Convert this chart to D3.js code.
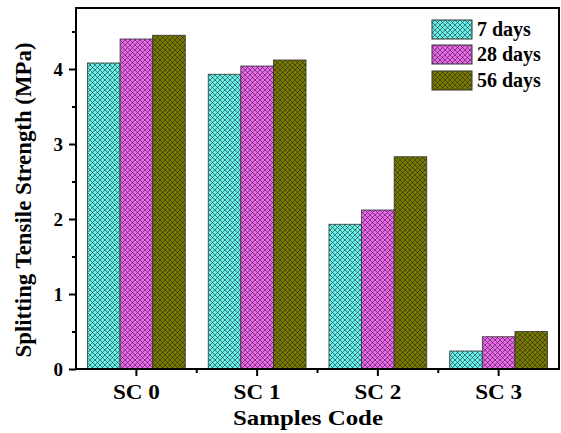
<!DOCTYPE html>
<html><head><meta charset="utf-8">
<script src="https://cdn.jsdelivr.net/npm/d3@7"></script>
<style>body{margin:0;background:#fff}svg{display:block}text{font-family:"Liberation Serif","Times New Roman",serif;font-weight:bold;fill:#000}</style>
</head><body>
<script>
const categories = ["SC 0","SC 1","SC 2","SC 3"];
const seriesNames = ["7 days","28 days","56 days"];
const days7  = [4.08, 3.93, 1.93, 0.24];
const days28 = [4.40, 4.04, 2.12, 0.43];
const days56 = [4.45, 4.12, 2.83, 0.50];
const yTicks = [0,1,2,3,4];
const yMinorTicks = [0.5,1.5,2.5,3.5,4.5];
const colors = ["#66f2ea","#ee66ee","#7a7a00"];

const W=561,H=433;
const m={l:76,r:2,t:8};
const y0=369;
const svg=d3.select("body").append("svg").attr("width",W).attr("height",H);
const defs=svg.append("defs");
const P=5;
colors.forEach((c,i)=>{
  const p=defs.append("pattern").attr("id","pat"+i).attr("patternUnits","userSpaceOnUse").attr("width",P).attr("height",P);
  p.append("rect").attr("width",P).attr("height",P).attr("fill",c);
  p.append("path").attr("d",`M-1,1 L1,-1 M0,${P} L${P},0 M${P-1},${P+1} L${P+1},${P-1} M-1,${P-1} L1,${P+1} M0,0 L${P},${P} M${P-1},-1 L${P+1},1`)
   .attr("stroke","#1a1a1a").attr("stroke-opacity",0.6).attr("stroke-width",0.9);
});

const x=d3.scaleBand().domain(categories).range([m.l,W-m.r]).paddingInner(0.19).paddingOuter(0.095);
const xs=d3.scaleBand().domain(seriesNames).range([0,x.bandwidth()]);
const y=d3.scaleLinear().domain([0,4.85]).range([y0,y0-4.85*75]);

const data=[days7,days28,days56];
const g=svg.append("g");
categories.forEach((c,ci)=>{
  seriesNames.forEach((s,si)=>{
    const v=data[si][ci];
    g.append("rect").attr("x",x(c)+xs(s)).attr("y",y(v)).attr("width",xs.bandwidth()).attr("height",y(0)-y(v))
     .attr("fill","url(#pat"+si+")").attr("stroke","#333").attr("stroke-width",0.8);
  });
});

// frame
svg.append("rect").attr("x",m.l).attr("y",m.t).attr("width",W-m.r-m.l).attr("height",y0-m.t)
  .attr("fill","none").attr("stroke","#000").attr("stroke-width",2);

// y axis
const ya=svg.append("g").attr("transform",`translate(${m.l},0)`)
 .call(d3.axisLeft(y).tickValues(yTicks).tickSize(7).tickPadding(6).tickFormat(d3.format("d")));
ya.select(".domain").remove();
ya.selectAll("line").attr("stroke","#000").attr("stroke-width",2);
ya.selectAll("text").style("font-size","19px").attr("dy","0.36em");
const yam=svg.append("g").attr("transform",`translate(${m.l},0)`)
 .call(d3.axisLeft(y).tickValues(yMinorTicks).tickSize(4).tickFormat(""));
yam.select(".domain").remove();
yam.selectAll("line").attr("stroke","#000").attr("stroke-width",2);

// x axis
const xa=svg.append("g").attr("transform",`translate(0,${y0})`)
 .call(d3.axisBottom(x).tickSize(7).tickPadding(9));
xa.select(".domain").remove();
xa.selectAll("line").attr("stroke","#000").attr("stroke-width",2);
xa.selectAll("text").style("font-size","20px").attr("textLength",47).attr("lengthAdjust","spacingAndGlyphs");
const bounds=categories.slice(1).map(c=>x(c)-x.step()*x.paddingInner()/2);
svg.append("g").selectAll("line").data(bounds).join("line")
 .attr("x1",d=>d).attr("x2",d=>d).attr("y1",y0).attr("y2",y0+4).attr("stroke","#000").attr("stroke-width",2);

// axis titles
svg.append("text").attr("x",308).attr("y",425).attr("text-anchor","middle").style("font-size","21px")
  .attr("textLength",150).attr("lengthAdjust","spacingAndGlyphs").text("Samples Code");
svg.append("text").attr("transform",`translate(31,200) rotate(-90)`).attr("text-anchor","middle").style("font-size","23px")
  .attr("textLength",315).attr("lengthAdjust","spacingAndGlyphs").text("Splitting Tensile Strength (MPa)");

// legend
const lg=svg.append("g");
const legY=[20,45,71];
seriesNames.forEach((s,i)=>{
  const yy=legY[i];
  lg.append("rect").attr("x",432).attr("y",yy).attr("width",40).attr("height",19).attr("fill","url(#pat"+i+")").attr("stroke","#333").attr("stroke-width",1);
  lg.append("text").attr("x",477).attr("y",yy+16).style("font-size","20px").text(s);
});
</script>
</body></html>
